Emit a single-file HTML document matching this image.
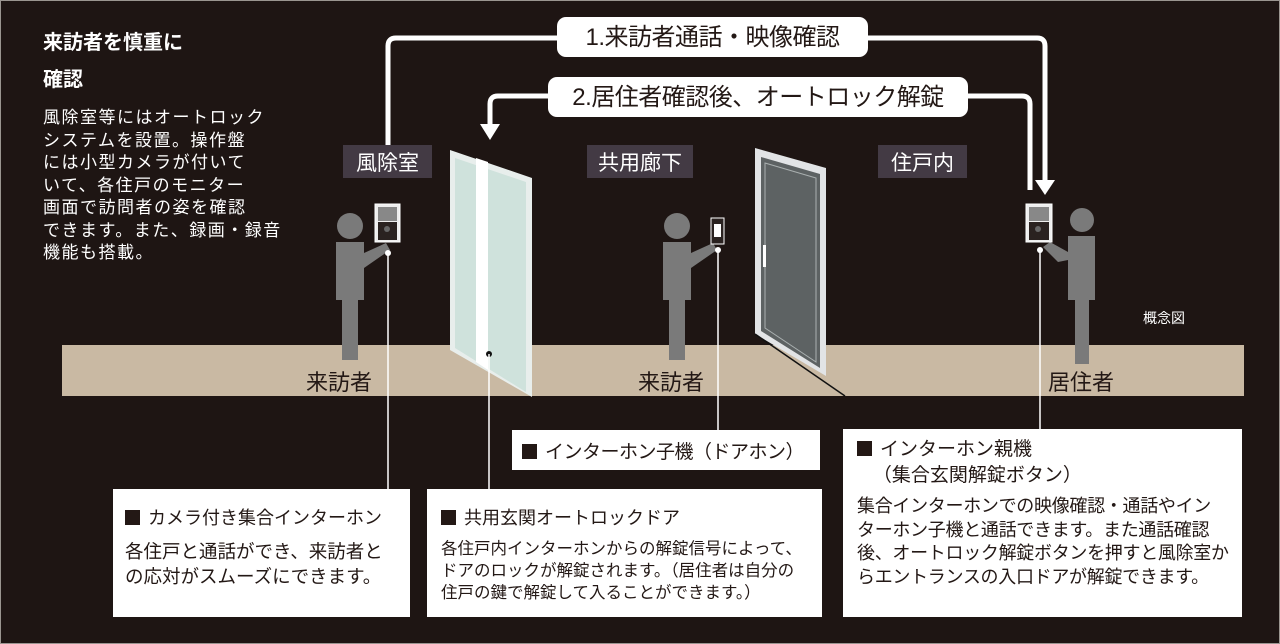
<!DOCTYPE html>
<html><head><meta charset="utf-8"><style>
html,body{margin:0;padding:0;background:#1e1513;}
body{width:1280px;height:644px;position:relative;overflow:hidden;font-family:"Liberation Sans","Noto Sans CJK JP",sans-serif;}
.t{position:absolute;color:#fff;white-space:nowrap;}
.box{position:absolute;background:#fff;color:#231815;}
.sq{display:inline-block;width:15px;height:15px;background:#231815;margin-right:8px;vertical-align:-1px;}
</style></head><body>
<svg width="1280" height="644" style="position:absolute;left:0;top:0">
<rect x="0.5" y="0.5" width="1279" height="643" fill="none" stroke="#9a9590" stroke-width="1"/>
<rect x="62" y="345" width="1182" height="51" fill="#c9b9a3"/>
<path d="M388 162 V46 Q388 38 396 38 H1037 Q1045 38 1045 46 V182" fill="none" stroke="#fff" stroke-width="5"/>
<polygon points="1035,180 1055,180 1045,195" fill="#fff"/>
<path d="M1030 190 V104 Q1030 96 1022 96 H498 Q490 96 490 104 V126" fill="none" stroke="#fff" stroke-width="5"/>
<polygon points="480,124 500,124 490,140" fill="#fff"/>
<rect x="557" y="17" width="311" height="40" rx="9" fill="#fff"/>
<rect x="548" y="77" width="420" height="40" rx="9" fill="#fff"/>
<rect x="343" y="145" width="89" height="33" fill="#433a44"/>
<rect x="587" y="145" width="106" height="33" fill="#433a44"/>
<rect x="878" y="145" width="89" height="33" fill="#433a44"/>
<polygon points="450,150 532,178 532,397 450,350" fill="#e8eeec"/>
<polygon points="455,158 526,182 526,392 455,348" fill="#cfe2dc"/>
<polygon points="476,158 488,162 488,370 476,362" fill="#fff"/>
<circle cx="489" cy="354" r="3" fill="#111"/>
<polygon points="755,148 826,168 826,376 755,334" fill="#e2e4e6"/>
<polygon points="761,157 820,174 820,368 761,331" fill="#5d6263"/>
<polygon points="765,163 816,178 816,362 765,328" fill="none" stroke="#aab0b0" stroke-width="1"/>
<rect x="763" y="245" width="3" height="22" fill="#fff"/>
<line x1="755" y1="334" x2="845" y2="396" stroke="#111" stroke-width="1.5"/>
<g fill="#7a7a7a">
<circle cx="350" cy="226" r="13"/>
<path d="M336 242 H364 V253 L386 243 L390 250 L364 268 V300 H336 Z"/>
<rect x="342" y="298" width="16" height="62"/>
</g>
<rect x="375" y="204" width="25" height="38" fill="#eee" stroke="#fff"/>
<rect x="378" y="207" width="19" height="14" fill="#888"/>
<rect x="378" y="222" width="19" height="18" fill="#2a2220"/>
<circle cx="387" cy="229" r="3" fill="#666"/>
<g fill="#7a7a7a">
<circle cx="677" cy="226" r="13"/>
<path d="M663 242 H691 V253 L713 243 L717 250 L691 268 V300 H663 Z"/>
<rect x="669" y="298" width="16" height="62"/>
</g>
<rect x="711" y="218" width="13" height="26" fill="#2a2220" stroke="#fff"/>
<rect x="714" y="224" width="7" height="13" fill="#fff"/>
<g fill="#7a7a7a">
<circle cx="1082" cy="220" r="12"/>
<path d="M1068 236 H1095 V300 H1068 V260 L1058 262 L1043 247 L1050 242 L1068 252 Z"/>
<rect x="1075" y="298" width="14" height="66"/>
</g>
<rect x="1026" y="204" width="26" height="38" fill="#eee" stroke="#fff"/>
<rect x="1029" y="207" width="20" height="14" fill="#888"/>
<rect x="1029" y="222" width="20" height="18" fill="#2a2220"/>
<circle cx="1038" cy="229" r="3" fill="#666"/>
<g stroke="#fff" stroke-width="1.5">
<line x1="388" y1="253" x2="388" y2="489"/>
<line x1="489" y1="354" x2="489" y2="489"/>
<line x1="718" y1="250" x2="718" y2="430"/>
<line x1="1040" y1="250" x2="1040" y2="429"/>
</g>
<g fill="#fff"><circle cx="388" cy="253" r="3"/><circle cx="718" cy="250" r="3"/><circle cx="1040" cy="250" r="3"/></g>
</svg>
<div class="t" style="left:43px;top:26px;font-size:20px;font-weight:bold;">来訪者を慎重に</div>
<div class="t" style="left:43px;top:63px;font-size:20px;font-weight:bold;">確認</div>
<div class="t" style="left:43px;top:107px;font-size:17px;line-height:22.5px;letter-spacing:1.5px;">風除室等にはオートロック<br>システムを設置。操作盤<br>には小型カメラが付いて<br>いて、各住戸のモニター<br>画面で訪問者の姿を確認<br>できます。また、録画・録音<br>機能も搭載。</div>
<div class="t" style="left:557px;top:17px;width:311px;text-align:center;font-size:24px;color:#231815;letter-spacing:-0.5px;">1.来訪者通話・映像確認</div>
<div class="t" style="left:548px;top:77px;width:420px;text-align:center;font-size:24px;color:#231815;letter-spacing:-0.5px;">2.居住者確認後、オートロック解錠</div>
<div class="t" style="left:343px;top:147px;width:89px;text-align:center;font-size:21px;">風除室</div>
<div class="t" style="left:587px;top:147px;width:106px;text-align:center;font-size:21px;">共用廊下</div>
<div class="t" style="left:878px;top:147px;width:89px;text-align:center;font-size:21px;">住戸内</div>
<div class="t" style="left:1143px;top:308px;font-size:14px;">概念図</div>
<div class="t" style="left:306px;top:365px;font-size:22px;color:#231815;">来訪者</div>
<div class="t" style="left:638px;top:365px;font-size:22px;color:#231815;">来訪者</div>
<div class="t" style="left:1048px;top:365px;font-size:22px;color:#231815;">居住者</div>
<div class="box" style="left:512px;top:430px;width:308px;height:40px;"><div style="position:absolute;left:10px;top:7px;font-size:19px;letter-spacing:-0.5px;"><span class="sq"></span>インターホン子機（ドアホン）</div></div>
<div class="box" style="left:113px;top:489px;width:297px;height:128px;">
<div style="position:absolute;left:12px;top:15px;font-size:18px;"><span class="sq"></span>カメラ付き集合インターホン</div>
<div style="position:absolute;left:12px;top:50px;font-size:18.5px;line-height:25px;">各住戸と通話ができ、来訪者と<br>の応対がスムーズにできます。</div></div>
<div class="box" style="left:427px;top:489px;width:395px;height:128px;">
<div style="position:absolute;left:14px;top:15px;font-size:18px;"><span class="sq"></span>共用玄関オートロックドア</div>
<div style="position:absolute;left:14px;top:49px;font-size:16.5px;line-height:22px;">各住戸内インターホンからの解錠信号によって、<br>ドアのロックが解錠されます。（居住者は自分の<br>住戸の鍵で解錠して入ることができます。）</div></div>
<div class="box" style="left:843px;top:429px;width:399px;height:188px;">
<div style="position:absolute;left:14px;top:8px;font-size:19px;line-height:26px;"><span class="sq"></span>インターホン親機<br>&nbsp;&nbsp;&nbsp;（集合玄関解錠ボタン）</div>
<div style="position:absolute;left:14px;top:66px;font-size:18px;line-height:23.5px;letter-spacing:-0.3px;">集合インターホンでの映像確認・通話やイン<br>ターホン子機と通話できます。また通話確認<br>後、オートロック解錠ボタンを押すと風除室か<br>らエントランスの入口ドアが解錠できます。</div></div>
</body></html>
